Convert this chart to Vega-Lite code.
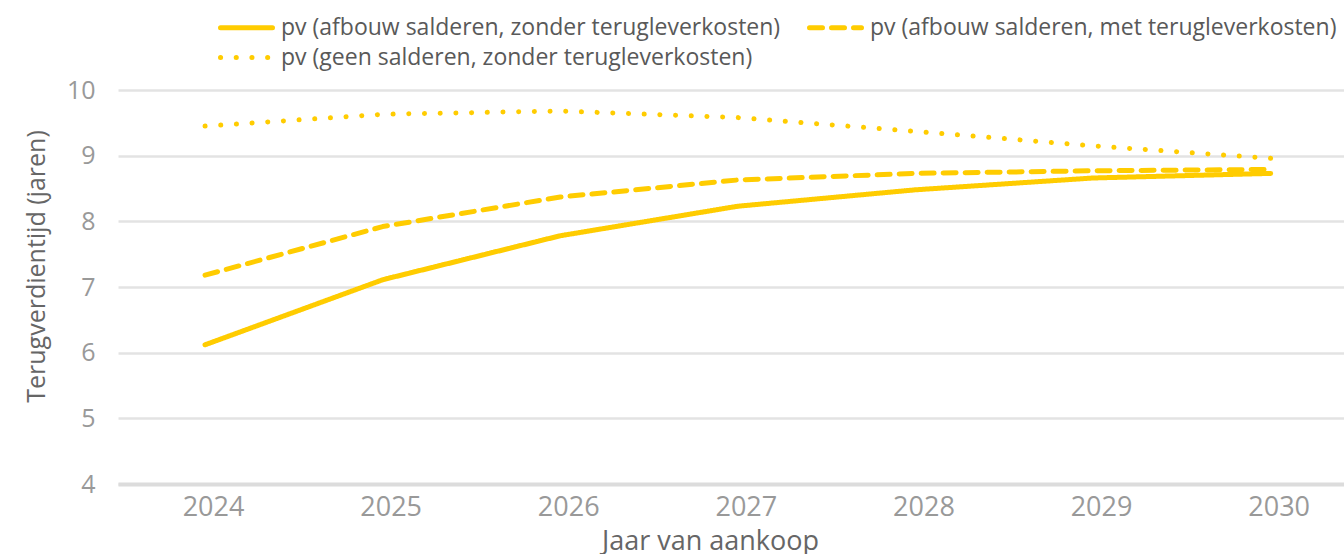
{
  "$schema": "https://vega.github.io/schema/vega-lite/v6.json",
  "width": 1226,
  "height": 394,
  "autosize": "none",
  "padding": {"left": 118, "top": 90, "right": 0, "bottom": 70},
  "background": "white",
  "config": {
    "font": "Open Sans",
    "view": {"stroke": null}
  },
  "data": {
    "values": [
      {"jaar": 2024, "reeks": "pv (afbouw salderen, zonder terugleverkosten)", "waarde": 6.12},
      {"jaar": 2025, "reeks": "pv (afbouw salderen, zonder terugleverkosten)", "waarde": 7.11},
      {"jaar": 2026, "reeks": "pv (afbouw salderen, zonder terugleverkosten)", "waarde": 7.78},
      {"jaar": 2027, "reeks": "pv (afbouw salderen, zonder terugleverkosten)", "waarde": 8.23},
      {"jaar": 2028, "reeks": "pv (afbouw salderen, zonder terugleverkosten)", "waarde": 8.48},
      {"jaar": 2029, "reeks": "pv (afbouw salderen, zonder terugleverkosten)", "waarde": 8.66},
      {"jaar": 2030, "reeks": "pv (afbouw salderen, zonder terugleverkosten)", "waarde": 8.73},
      {"jaar": 2024, "reeks": "pv (afbouw salderen, met terugleverkosten)", "waarde": 7.18},
      {"jaar": 2025, "reeks": "pv (afbouw salderen, met terugleverkosten)", "waarde": 7.92},
      {"jaar": 2026, "reeks": "pv (afbouw salderen, met terugleverkosten)", "waarde": 8.37},
      {"jaar": 2027, "reeks": "pv (afbouw salderen, met terugleverkosten)", "waarde": 8.63},
      {"jaar": 2028, "reeks": "pv (afbouw salderen, met terugleverkosten)", "waarde": 8.73},
      {"jaar": 2029, "reeks": "pv (afbouw salderen, met terugleverkosten)", "waarde": 8.77},
      {"jaar": 2030, "reeks": "pv (afbouw salderen, met terugleverkosten)", "waarde": 8.79},
      {"jaar": 2024, "reeks": "pv (geen salderen, zonder terugleverkosten)", "waarde": 9.45},
      {"jaar": 2025, "reeks": "pv (geen salderen, zonder terugleverkosten)", "waarde": 9.63},
      {"jaar": 2026, "reeks": "pv (geen salderen, zonder terugleverkosten)", "waarde": 9.68},
      {"jaar": 2027, "reeks": "pv (geen salderen, zonder terugleverkosten)", "waarde": 9.58},
      {"jaar": 2028, "reeks": "pv (geen salderen, zonder terugleverkosten)", "waarde": 9.37},
      {"jaar": 2029, "reeks": "pv (geen salderen, zonder terugleverkosten)", "waarde": 9.15},
      {"jaar": 2030, "reeks": "pv (geen salderen, zonder terugleverkosten)", "waarde": 8.96}
    ]
  },
  "mark": {"type": "line", "color": "#FFCC00", "strokeWidth": 5, "strokeCap": "round", "strokeJoin": "round"},
  "encoding": {
    "x": {
      "field": "jaar",
      "type": "quantitative",
      "scale": {"domain": [2023.51, 2030.413], "nice": false, "zero": false},
      "axis": {
        "values": [2024, 2025, 2026, 2027, 2028, 2029, 2030],
        "format": "d",
        "grid": false,
        "ticks": false,
        "domain": true,
        "domainColor": "#dcdcdc",
        "domainWidth": 4,
        "labelFont": "Open Sans",
        "labelFontSize": 27,
        "labelColor": "#999999",
        "labelPadding": 10,
        "labelOffset": 8,
        "labelFlush": false,
        "labelOverlap": false,
        "title": "Jaar van aankoop",
        "titleFont": "Open Sans",
        "titleFontSize": 27,
        "titleFontWeight": "normal",
        "titleColor": "#666666",
        "titleX": 592,
        "titleY": 65,
        "titleBaseline": "alphabetic"
      }
    },
    "y": {
      "field": "waarde",
      "type": "quantitative",
      "scale": {"domain": [4, 10], "nice": false, "zero": false},
      "axis": {
        "values": [4, 5, 6, 7, 8, 9, 10],
        "grid": true,
        "gridColor": "#e3e3e3",
        "gridWidth": 2.5,
        "ticks": false,
        "domain": false,
        "labelFont": "Open Sans",
        "labelFontSize": 25,
        "labelColor": "#999999",
        "labelPadding": 23,
        "title": "Terugverdientijd (jaren)",
        "titleFont": "Open Sans",
        "titleFontSize": 25,
        "titleFontWeight": "normal",
        "titleColor": "#666666",
        "titleX": -82,
        "titleY": 176,
        "titleAngle": -90,
        "titleBaseline": "middle",
        "titleAlign": "center"
      }
    },
    "strokeDash": {
      "field": "reeks",
      "type": "nominal",
      "scale": {
        "domain": [
          "pv (afbouw salderen, zonder terugleverkosten)",
          "pv (afbouw salderen, met terugleverkosten)",
          "pv (geen salderen, zonder terugleverkosten)"
        ],
        "range": [[1, 0], [13, 9], [0.1, 15.6]]
      },
      "legend": {
        "orient": "none",
        "legendX": 100,
        "legendY": -78,
        "direction": "horizontal",
        "columns": 2,
        "columnPadding": 18,
        "rowPadding": 2,
        "title": null,
        "symbolType": "M-1,0H3",
        "symbolSize": 676,
        "symbolStrokeWidth": 5,
        "symbolStrokeColor": "#FFCC00",
        "labelFont": "Open Sans",
        "labelFontSize": 23,
        "labelColor": "#595959",
        "labelOffset": 32,
        "labelLimit": 0,
        "padding": 0,
        "encode": {"symbols": {"update": {"strokeCap": {"value": "round"}}}}
      }
    }
  }
}
